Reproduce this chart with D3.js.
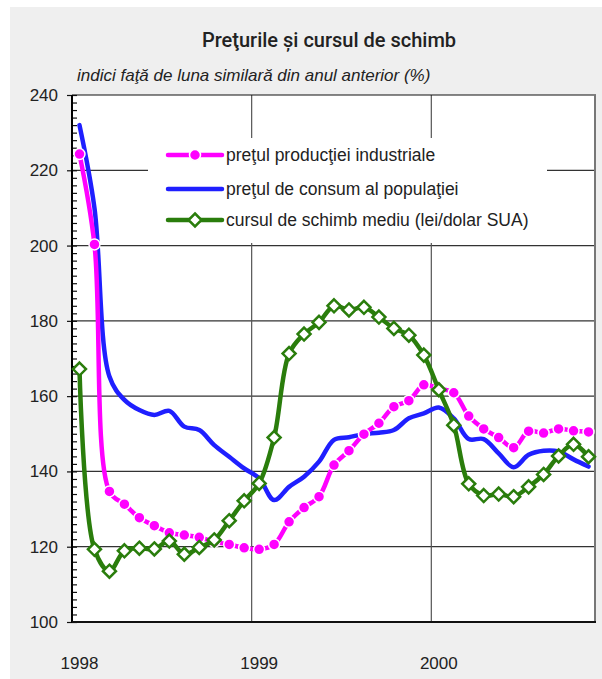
<!DOCTYPE html>
<html lang="ro">
<head>
<meta charset="utf-8">
<title>Preţurile şi cursul de schimb</title>
<script src="https://cdn.jsdelivr.net/npm/d3@7"></script>
<style>
  body { margin: 0; background: #fff; }
  text { font-family: "Liberation Sans", Arial, sans-serif; fill: #222; }
</style>
</head>
<body>
<script>
// months Jan 1998 .. Nov 2000
var months = ["1998-01","1998-02","1998-03","1998-04","1998-05","1998-06","1998-07","1998-08","1998-09","1998-10","1998-11","1998-12",
              "1999-01","1999-02","1999-03","1999-04","1999-05","1999-06","1999-07","1999-08","1999-09","1999-10","1999-11","1999-12",
              "2000-01","2000-02","2000-03","2000-04","2000-05","2000-06","2000-07","2000-08","2000-09","2000-10","2000-11"];
var yearLabels = ["1998", "1999", "2000"];
var yTicks = [100, 120, 140, 160, 180, 200, 220, 240];

// pretul productiei industriale
var productie = [224.3, 200.3, 134.7, 131.3, 127.7, 125.6, 123.7, 123.1, 122.5, 121.3, 120.6, 119.7,
                 119.3, 120.6, 126.6, 130.4, 133.3, 141.7, 145.5, 149.9, 152.8, 157.2, 158.8, 163.0,
                 162.0, 160.9, 154.7, 151.3, 149.0, 146.3, 150.7, 150.2, 151.3, 150.8, 150.5];
// pretul de consum al populatiei
var consum = [232.0, 210.0, 165.2, 159.0, 156.3, 155.0, 156.1, 151.9, 151.0, 147.0, 143.9, 140.8,
              138.2, 132.4, 135.9, 138.6, 142.6, 148.4, 149.1, 149.9, 150.3, 151.0, 154.1, 155.4,
              157.0, 154.1, 148.6, 148.6, 144.8, 141.1, 144.4, 145.5, 145.3, 143.2, 141.3];
// cursul de schimb mediu
var curs = [167.2, 119.3, 113.5, 118.9, 119.6, 119.4, 121.5, 118.0, 119.8, 121.8, 126.9, 132.2,
            136.8, 149.0, 171.3, 176.5, 179.6, 184.0, 182.9, 183.6, 181.0, 178.0, 176.2, 170.9,
            161.7, 152.3, 136.7, 133.6, 134.0, 133.3, 135.9, 139.2, 144.1, 147.2, 143.9];

var W = 602, H = 679;
var pL = 72, pR = 596, pT = 95, pB = 622;

var svg = d3.select("body").append("svg")
    .attr("width", W).attr("height", H);

// grey panel
svg.append("rect").attr("x", 10).attr("y", 7).attr("width", W - 10).attr("height", H - 7)
    .attr("fill", "#efefef");

var x = d3.scaleLinear().domain([0, months.length]).range([pL, pR]);
var y = d3.scaleLinear().domain([100, 240]).range([pB, pT]);

// plot area
svg.append("rect").attr("x", pL).attr("y", pT)
    .attr("width", pR - pL).attr("height", pB - pT)
    .attr("fill", "#fff");

// title
svg.append("text").attr("x", 329).attr("y", 47).attr("text-anchor", "middle")
    .style("font-size", "20px").style("font-family", "Roboto, 'Liberation Sans', sans-serif")
    .style("font-weight", 500)
    .text("Preţurile şi cursul de schimb");
svg.append("text").attr("x", 77).attr("y", 81)
    .style("font-size", "17px").style("font-style", "italic")
    .text("indici faţă de luna similară din anul anterior (%)");

// horizontal gridlines
svg.append("g").selectAll("line")
    .data(yTicks.filter(function(d) { return d > 100 && d < 240; }))
    .enter().append("line")
    .attr("x1", pL).attr("x2", pR)
    .attr("y1", function(d) { return y(d); }).attr("y2", function(d) { return y(d); })
    .attr("stroke", "#333").attr("stroke-width", 1.2);

// vertical gridlines at year boundaries
svg.append("g").selectAll("line")
    .data([12, 24])
    .enter().append("line")
    .attr("x1", function(d) { return x(d); }).attr("x2", function(d) { return x(d); })
    .attr("y1", pT).attr("y2", pB)
    .attr("stroke", "#555").attr("stroke-width", 1.2);

// legend box hides the grid behind it
svg.append("rect").attr("x", 148).attr("y", 138).attr("width", 399).attr("height", 105)
    .attr("fill", "#fff");

// border
svg.append("line").attr("x1", pL).attr("x2", pR).attr("y1", pT).attr("y2", pT)
    .attr("stroke", "#111").attr("stroke-width", 1.2);
svg.append("line").attr("x1", pR - 1).attr("x2", pR - 1).attr("y1", pT).attr("y2", pB)
    .attr("stroke", "#777").attr("stroke-width", 2);

// y axis: major ticks outside, minor ticks inside
var yAxis = d3.axisLeft(y).tickValues(yTicks).tickSize(5).tickPadding(9)
    .tickFormat(d3.format("d"));
var gy = svg.append("g").attr("transform", "translate(" + pL + ",0)").call(yAxis);
gy.select(".domain").remove();
gy.selectAll(".tick line").attr("stroke", "#111").attr("stroke-width", 1.2);
gy.selectAll(".tick text").style("font-size", "17px")
    .style("font-family", "'Liberation Sans', Arial, sans-serif").attr("fill", "#222");

var minor = d3.axisRight(y).tickValues(d3.range(100, 241, 2)).tickSize(5).tickFormat("");
var gm = svg.append("g").attr("transform", "translate(" + pL + ",0)").call(minor);
gm.select(".domain").remove();
gm.selectAll(".tick line").attr("stroke", "#111").attr("stroke-width", 1.2);

svg.append("line").attr("x1", pL).attr("x2", pL).attr("y1", pT).attr("y2", pB + 1)
    .attr("stroke", "#000").attr("stroke-width", 2);
svg.append("line").attr("x1", pL).attr("x2", pR).attr("y1", pB).attr("y2", pB)
    .attr("stroke", "#111").attr("stroke-width", 2);

// year labels, under January of each year
svg.append("g").selectAll("text")
    .data(yearLabels)
    .enter().append("text")
    .attr("x", function(d) { return x(months.indexOf(d + "-01") + 0.5); })
    .attr("y", 669).attr("text-anchor", "middle")
    .style("font-size", "17px")
    .text(function(d) { return d; });

var px = function(d, i) { return x(i + 0.5); };
var line = d3.line().x(px).y(function(d) { return y(d); })
    .curve(d3.curveCatmullRom.alpha(0.5));

var BLUE = "#1f1fff", PINK = "#ff00ff", GREEN = "#2a7d0c";

// CPI
svg.append("path").datum(consum).attr("d", line)
    .attr("fill", "none").attr("stroke", BLUE).attr("stroke-width", 4.5)
    .attr("stroke-linejoin", "round").attr("stroke-linecap", "round");

// producer prices
svg.append("path").datum(productie).attr("d", line)
    .attr("fill", "none").attr("stroke", PINK).attr("stroke-width", 4.5)
    .attr("stroke-linejoin", "round");
svg.append("g").selectAll("circle")
    .data(productie).enter().append("circle")
    .attr("cx", px).attr("cy", function(d) { return y(d); })
    .attr("r", 5.5).attr("fill", PINK).attr("stroke", "#fff").attr("stroke-width", 1.5);

// exchange rate
svg.append("path").datum(curs).attr("d", line)
    .attr("fill", "none").attr("stroke", GREEN).attr("stroke-width", 4.5)
    .attr("stroke-linejoin", "round");
var diamond = "M0,-6.5L6.5,0L0,6.5L-6.5,0Z";
svg.append("g").selectAll("path")
    .data(curs).enter().append("path")
    .attr("d", diamond)
    .attr("transform", function(d, i) { return "translate(" + px(d, i) + "," + y(d) + ")"; })
    .attr("fill", "#fff").attr("stroke", GREEN).attr("stroke-width", 2.5);

// legend
var legendItems = [
  { label: "preţul producţiei industriale", color: PINK, mark: "circle", y: 155 },
  { label: "preţul de consum al populaţiei", color: BLUE, mark: "none", y: 189 },
  { label: "cursul de schimb mediu (lei/dolar SUA)", color: GREEN, mark: "diamond", y: 220 }
];
var lg = svg.append("g").selectAll("g").data(legendItems).enter().append("g")
    .attr("transform", function(d) { return "translate(0," + d.y + ")"; });
lg.append("line").attr("x1", 168).attr("x2", 222).attr("y1", 0).attr("y2", 0)
    .attr("stroke", function(d) { return d.color; }).attr("stroke-width", 4.5)
    .attr("stroke-linecap", "round");
lg.filter(function(d) { return d.mark === "circle"; }).append("circle")
    .attr("cx", 195).attr("cy", 0).attr("r", 5.5)
    .attr("fill", PINK).attr("stroke", "#fff").attr("stroke-width", 1.5);
lg.filter(function(d) { return d.mark === "diamond"; }).append("path")
    .attr("d", diamond).attr("transform", "translate(195,0)")
    .attr("fill", "#fff").attr("stroke", GREEN).attr("stroke-width", 2.5);
lg.append("text").attr("x", 226).attr("y", 0).attr("dy", "0.36em")
    .style("font-size", "17.5px").attr("fill", "#333")
    .text(function(d) { return d.label; });
</script>
</body>
</html>
